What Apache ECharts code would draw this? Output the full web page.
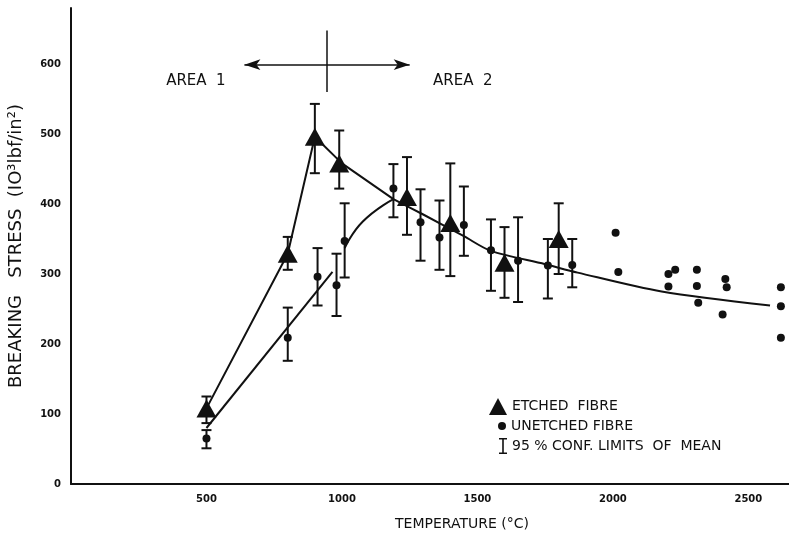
<!DOCTYPE html>
<html>
<head>
<meta charset="utf-8">
<script src="https://cdn.jsdelivr.net/npm/echarts@6/dist/echarts.min.js"></script>
<style>
  html, body { margin: 0; padding: 0; background: #fff; }
  #chart { width: 789px; height: 533px; }
</style>
</head>
<body>
<div id="chart"></div>
<script>
// etched fibre: means and 95% limits
var etchedTemp = [500, 800, 900, 990, 1240, 1400, 1600, 1800];
var etchedStress = [108, 329, 496, 458, 410, 373, 316, 350];
var etchedLow = [87, 306, 444, 422, 356, 297, 266, 300];
var etchedHigh = [125, 353, 543, 505, 467, 458, 367, 401];

// unetched fibre with error bars
var unetchedTemp = [500, 800, 910, 980, 1010, 1190, 1290, 1360, 1450, 1550, 1650, 1760, 1850];
var unetchedStress = [65, 209, 296, 284, 347, 422, 374, 352, 370, 334, 319, 312, 313];
var unetchedLow = [51, 176, 255, 240, 295, 381, 319, 306, 326, 276, 260, 265, 281];
var unetchedHigh = [77, 252, 337, 329, 401, 457, 421, 405, 425, 378, 381, 350, 350];

// unetched fibre, single points at high temperature
var lateTemp = [2010, 2020, 2205, 2230, 2205, 2310, 2310, 2315, 2415, 2420, 2405, 2620, 2620, 2620];
var lateStress = [359, 303, 300, 306, 282, 306, 283, 259, 293, 281, 242, 281, 254, 209];

// hand drawn curves
var etchedFitT = [500, 800, 900, 1000, 1190];
var etchedFitS = [108, 329, 496, 458, 407];
var unetchedLineT = [500, 965];
var unetchedLineS = [80, 303];
var unetchedCurveT = [1010, 1077, 1190];
var unetchedCurveS = [337, 375, 407];
var commonFitT = [1190, 1300, 1450, 1550, 1750, 1870, 2180, 2580];
var commonFitS = [407, 385, 354, 333, 314, 302, 275, 255];

// area annotation
var areaArrowT = [640, 1250];
var areaArrowS = 599;
var areaDividerT = 945;
var areaDividerS = [648, 560];
var areaLabels = ['AREA  1', 'AREA  2'];
var areaLabelT = [461, 1446];
var areaLabelS = 575;

var xTicks = [500, 1000, 1500, 2000, 2500];
var yTicks = [0, 100, 200, 300, 400, 500, 600];

var ink = '#111';
var font = 'DejaVu Sans';

function pairs(a, b) {
  return a.map(function (v, i) { return [v, b[i]]; });
}

var errorData = pairs(etchedTemp, etchedLow).map(function (p, i) { return [p[0], p[1], etchedHigh[i]]; })
  .concat(pairs(unetchedTemp, unetchedLow).map(function (p, i) { return [p[0], p[1], unetchedHigh[i]]; }));

function renderErrorBar(params, api) {
  var x = api.value(0);
  var top = api.coord([x, api.value(2)]);
  var bot = api.coord([x, api.value(1)]);
  var w = 5;
  var style = { stroke: ink, lineWidth: 2 };
  return {
    type: 'group',
    children: [
      { type: 'line', shape: { x1: top[0], y1: top[1], x2: bot[0], y2: bot[1] }, style: style },
      { type: 'line', shape: { x1: top[0] - w, y1: top[1], x2: top[0] + w, y2: top[1] }, style: style },
      { type: 'line', shape: { x1: bot[0] - w, y1: bot[1], x2: bot[0] + w, y2: bot[1] }, style: style }
    ]
  };
}

var fitLine = { type: 'line', symbol: 'none', silent: true, color: ink, lineStyle: { color: ink, width: 2 }, z: 1 };
var legendText = { fontFamily: font, fontSize: 14, color: ink };

var chart = echarts.init(document.getElementById('chart'));

var option = {
  animation: false,
  backgroundColor: '#fff',
  textStyle: { fontFamily: font, color: ink },
  grid: { left: 71, right: 0, top: 8, bottom: 49, containLabel: false, outerBoundsMode: 'none' },
  legend: [
    {
      data: ['ETCHED FIBRE'], formatter: 'ETCHED  FIBRE', orient: 'vertical', left: 484, top: 393,
      itemWidth: 18, itemHeight: 17, itemGap: 3, selectedMode: false, textStyle: legendText
    },
    {
      data: ['UNETCHED FIBRE'], orient: 'vertical', left: 493, top: 414,
      itemWidth: 8, itemHeight: 8, itemGap: 6, selectedMode: false, textStyle: legendText
    },
    {
      data: [{ name: '95% CONF. LIMITS OF MEAN', icon: 'path://M0,0H10V2H6V18H10V20H0V18H4V2H0Z' }],
      formatter: '95 % CONF. LIMITS  OF  MEAN',
      orient: 'vertical', left: 494, top: 433,
      itemWidth: 8, itemHeight: 18, itemGap: 5, selectedMode: false, textStyle: legendText
    }
  ],
  xAxis: {
    type: 'value', min: 0, max: 2650, interval: 500,
    name: 'TEMPERATURE (°C)', nameLocation: 'middle', nameGap: 33,
    nameTextStyle: { fontFamily: font, fontSize: 14, color: ink, padding: [0, 0, 0, 64] },
    axisLine: { show: true, lineStyle: { color: ink, width: 2 } },
    axisTick: { show: false },
    splitLine: { show: false },
    axisLabel: {
      fontFamily: font, fontSize: 10, fontWeight: 'bold', color: ink, margin: 10,
      formatter: function (v) { return xTicks.indexOf(v) >= 0 ? String(v) : ''; }
    }
  },
  yAxis: {
    type: 'value', min: 0, max: 680, interval: 100,
    name: 'BREAKING   STRESS  (IO³lbf/in²)', nameLocation: 'middle', nameGap: 46,
    nameTextStyle: { fontFamily: font, fontSize: 18, color: ink },
    axisLine: { show: true, lineStyle: { color: ink, width: 2 } },
    axisTick: { show: false },
    splitLine: { show: false },
    axisLabel: {
      fontFamily: font, fontSize: 10, fontWeight: 'bold', color: ink, margin: 10,
      formatter: function (v) { return yTicks.indexOf(v) >= 0 ? String(v) : ''; }
    }
  },
  series: [
    Object.assign({}, fitLine, {
      name: 'etched fit', data: pairs(etchedFitT, etchedFitS),
      markLine: {
        silent: true, animation: false,
        lineStyle: { color: ink, width: 1.5, type: 'solid' },
        label: { show: false },
        data: [
          [{ coord: [areaArrowT[0], areaArrowS], symbol: 'arrow', symbolSize: [8, 16] },
           { coord: [areaArrowT[1], areaArrowS], symbol: 'arrow', symbolSize: [8, 16] }],
          [{ coord: [areaDividerT, areaDividerS[0]], symbol: 'none' },
           { coord: [areaDividerT, areaDividerS[1]], symbol: 'none' }]
        ]
      },
      markPoint: {
        silent: true, animation: false, symbolSize: 0,
        label: { show: true, position: 'inside', fontFamily: font, fontSize: 15, color: ink },
        data: areaLabels.map(function (t, i) {
          return { coord: [areaLabelT[i], areaLabelS], value: t, label: { formatter: t } };
        })
      }
    }),
    Object.assign({}, fitLine, { name: 'unetched line', data: pairs(unetchedLineT, unetchedLineS) }),
    Object.assign({}, fitLine, { name: 'unetched curve', smooth: true, data: pairs(unetchedCurveT, unetchedCurveS) }),
    Object.assign({}, fitLine, { name: 'common fit', smooth: 0.3, data: pairs(commonFitT, commonFitS) }),
    {
      name: '95% CONF. LIMITS OF MEAN', type: 'custom', renderItem: renderErrorBar,
      encode: { x: 0, y: [1, 2] }, data: errorData, itemStyle: { color: ink }, z: 2, silent: true
    },
    {
      name: 'UNETCHED FIBRE', type: 'scatter', symbol: 'circle', symbolSize: 8,
      itemStyle: { color: ink, opacity: 1 }, z: 3,
      data: pairs(unetchedTemp, unetchedStress).concat(pairs(lateTemp, lateStress))
    },
    {
      name: 'ETCHED FIBRE', type: 'scatter', symbol: 'triangle', symbolSize: [20, 18],
      itemStyle: { color: ink, opacity: 1 }, z: 4,
      data: pairs(etchedTemp, etchedStress)
    }
  ]
};

chart.setOption(option);
</script>
</body>
</html>
